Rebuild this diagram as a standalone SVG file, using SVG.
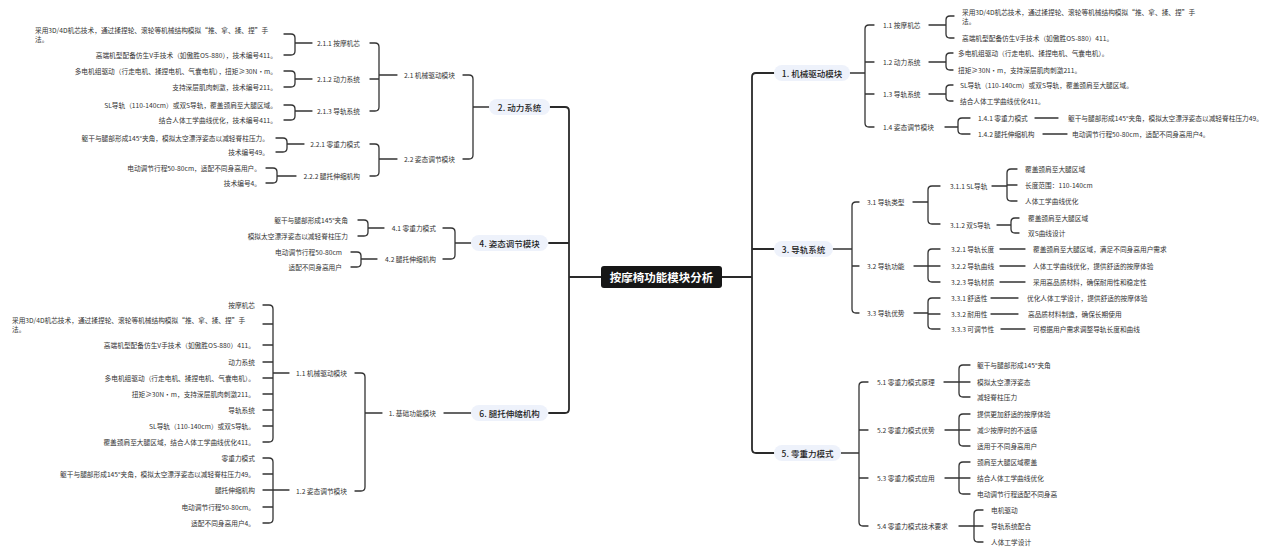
<svg xmlns="http://www.w3.org/2000/svg" width="1280" height="554" viewBox="0 0 1280 554">
<style>
text{font-family:"Noto Sans CJK SC","Noto Sans",sans-serif;font-size:6.7px;fill:#333;dominant-baseline:central}
.e{text-anchor:end}
.m{font-size:8.5px;fill:#222;font-weight:500;text-anchor:middle}
.c{font-size:11.5px;fill:#fff;font-weight:700;text-anchor:middle}
.p{fill:#eef2fb}
.l{fill:none;stroke:#333;stroke-width:1.3;stroke-linecap:round}
.L{fill:none;stroke:#2a2a2a;stroke-width:1.8;stroke-linecap:round}
</style>
<rect width="1280" height="554" fill="#fff"/>
<g id="connectors">
<path class="L" d="M550 107H565Q569 107 569 111V409Q569 413 565 413H549M549 243H569M569 277H601"/>
<path class="L" d="M774 73H756Q752 73 752 77V449Q752 453 756 453H774M752 249H774M722 277H752"/>
<path class="l" d="M489 107H473M463 75H469Q473 75 473 79V155Q473 159 469 159H463"/>
<path class="l" d="M397 75H379M370 43H375Q379 43 379 47V107Q379 111 375 111H370M370 79H379"/>
<path class="l" d="M312 43H295M284 34H291Q295 34 295 38V51Q295 55 291 55H284"/>
<path class="l" d="M312 79H295M284 71H291Q295 71 295 75V83Q295 87 291 87H284"/>
<path class="l" d="M312 111H295M284 105H291Q295 105 295 109V116Q295 120 291 120H284"/>
<path class="l" d="M397 159H379M370 144H375Q379 144 379 148V172Q379 176 375 176H370"/>
<path class="l" d="M304 144H287M276 138H283Q287 138 287 142V148Q287 152 283 152H276"/>
<path class="l" d="M296 176H277M266 168H273Q277 168 277 172V179Q277 183 273 183H266"/>
<path class="l" d="M471 243H455M443 228H451Q455 228 455 232V255Q455 259 451 259H443"/>
<path class="l" d="M384 228H368M358 220H364Q368 220 368 224V232Q368 236 364 236H358"/>
<path class="l" d="M377 259H361M351 252H357Q361 252 361 256V263Q361 267 357 267H351"/>
<path class="l" d="M471 413H444M382 413H365M355 373H361Q365 373 365 377V487Q365 491 361 491H355"/>
<path class="l" d="M289 373H273M263 305H269Q273 305 273 309V438Q273 442 269 442H263M263 324H273M263 345H273M263 362H273M263 378H273M263 394H273M263 410H273M263 426H273"/>
<path class="l" d="M263 490H289M263 458H269Q273 458 273 462V519Q273 523 269 523H263M263 474H273M263 507H273"/>
<path class="l" d="M850 73H865M874 25H869Q865 25 865 29V123Q865 127 869 127H874M865 62H874M865 94H874"/>
<path class="l" d="M929 25H946M954 16H950Q946 16 946 20V34Q946 38 950 38H954"/>
<path class="l" d="M929 62H946M953 53H950Q946 53 946 57V66Q946 70 950 70H953"/>
<path class="l" d="M929 94H946M953 85H950Q946 85 946 89V97Q946 101 950 101H953"/>
<path class="l" d="M945 127H958M970 118H962Q958 118 958 122V130Q958 134 962 134H970M1035 118H1058M1043 134H1067"/>
<path class="l" d="M833 249H852M859 202H856Q852 202 852 206V309Q852 313 856 313H859M852 266H859"/>
<path class="l" d="M913 202H928M940 186H932Q928 186 928 190V220Q928 224 932 224H940"/>
<path class="l" d="M992 186H1007M1017 169H1011Q1007 169 1007 173V197Q1007 201 1011 201H1017M1007 185H1017"/>
<path class="l" d="M997 225H1011M1019 218H1015Q1011 218 1011 222V229Q1011 233 1015 233H1019"/>
<path class="l" d="M914 266H940M940 249H932Q928 249 928 253V278Q928 282 932 282H940M1000 249H1025M1000 266H1025M1000 282H1025"/>
<path class="l" d="M914 313H928M940 298H932Q928 298 928 302V325Q928 329 932 329H940M928 314H940M991 298H1018M991 314H1018M1001 329H1025"/>
<path class="l" d="M841 453H859M868 382H863Q859 382 859 386V522Q859 526 863 526H868M859 430H868M859 478H868"/>
<path class="l" d="M944 382H970M970 365H963Q959 365 959 369V393Q959 397 963 397H970"/>
<path class="l" d="M945 430H970M970 414H963Q959 414 959 418V442Q959 446 963 446H970"/>
<path class="l" d="M945 478H970M970 462H963Q959 462 959 466V490Q959 494 963 494H970"/>
<path class="l" d="M959 526H983M983 510H978Q974 510 974 514V538Q974 542 978 542H983"/>
</g>
<g id="root"><rect x="601" y="266" width="121" height="22" rx="3" fill="#161616"/><text class="c" x="661.5" y="277">按摩椅功能模块分析</text></g>
<g id="n2"><rect class="p" x="489" y="99" width="61" height="16" rx="8"/><text class="m" x="519.5" y="107">2. 动力系统</text></g>
<g id="n2-1"><text class="e" x="455" y="75">2.1 机械驱动模块</text></g>
<g id="n2-2"><text class="e" x="455" y="159">2.2 姿态调节模块</text></g>
<g id="n2-1-1"><text class="e" x="360" y="43">2.1.1 按摩机芯</text></g>
<g id="n2-1-2"><text class="e" x="360" y="79">2.1.2 动力系统</text></g>
<g id="n2-1-3"><text class="e" x="360" y="111">2.1.3 导轨系统</text></g>
<g id="n2-2-1"><text class="e" x="360" y="144">2.2.1 零重力模式</text></g>
<g id="n2-2-2"><text class="e" x="360" y="176">2.2.2 腿托伸缩机构</text></g>
<g id="n2-leaves">
<text x="35" y="30">采用3D/4D机芯技术，通过揉捏轮、滚轮等机械结构模拟“推、拿、揉、捏”手</text>
<text x="35" y="39">法。</text>
<text class="e" x="277" y="55">高端机型配备仿生V手技术（如傲胜OS-880），技术编号411。</text>
<text class="e" x="277" y="71">多电机组驱动（行走电机、揉捏电机、气囊电机），扭矩≥30N·m。</text>
<text class="e" x="277" y="87">支持深层肌肉刺激，技术编号211。</text>
<text class="e" x="277" y="105">SL导轨（110-140cm）或双S导轨，覆盖颈肩至大腿区域。</text>
<text class="e" x="277" y="120">结合人体工学曲线优化，技术编号411。</text>
<text class="e" x="269" y="138">躯干与腿部形成145°夹角，模拟太空漂浮姿态以减轻脊柱压力。</text>
<text class="e" x="269" y="152">技术编号49。</text>
<text class="e" x="261" y="168">电动调节行程50-80cm，适配不同身高用户。</text>
<text class="e" x="261" y="183">技术编号4。</text>
</g>
<g id="n4"><rect class="p" x="471" y="235" width="77" height="16" rx="8"/><text class="m" x="509.5" y="243">4. 姿态调节模块</text></g>
<g id="n4-1"><text class="e" x="436" y="228">4.1 零重力模式</text></g>
<g id="n4-2"><text class="e" x="436" y="259">4.2 腿托伸缩机构</text></g>
<g id="n4-leaves">
<text class="e" x="348" y="220">躯干与腿部形成145°夹角</text>
<text class="e" x="348" y="236">模拟太空漂浮姿态以减轻脊柱压力</text>
<text class="e" x="342" y="252">电动调节行程50-80cm</text>
<text class="e" x="342" y="267">适配不同身高用户</text>
</g>
<g id="n6"><rect class="p" x="471" y="405" width="77" height="16" rx="8"/><text class="m" x="509.5" y="413">6. 腿托伸缩机构</text></g>
<g id="n6-1"><text class="e" x="436" y="413">1. 基础功能模块</text></g>
<g id="n6-1-1"><text class="e" x="347" y="373">1.1 机械驱动模块</text></g>
<g id="n6-1-2"><text class="e" x="347" y="491">1.2 姿态调节模块</text></g>
<g id="n6-leaves">
<text class="e" x="255" y="305">按摩机芯</text>
<text x="12" y="320">采用3D/4D机芯技术，通过揉捏轮、滚轮等机械结构模拟“推、拿、揉、捏”手</text>
<text x="12" y="329">法。</text>
<text class="e" x="255" y="345">高端机型配备仿生V手技术（如傲胜OS-880）411。</text>
<text class="e" x="255" y="362">动力系统</text>
<text class="e" x="255" y="378">多电机组驱动（行走电机、揉捏电机、气囊电机）。</text>
<text class="e" x="255" y="394">扭矩≥30N·m，支持深层肌肉刺激211。</text>
<text class="e" x="255" y="410">导轨系统</text>
<text class="e" x="255" y="426">SL导轨（110-140cm）或双S导轨。</text>
<text class="e" x="255" y="442">覆盖颈肩至大腿区域，结合人体工学曲线优化411。</text>
<text class="e" x="255" y="458">零重力模式</text>
<text class="e" x="255" y="474">躯干与腿部形成145°夹角，模拟太空漂浮姿态以减轻脊柱压力49。</text>
<text class="e" x="255" y="490">腿托伸缩机构</text>
<text class="e" x="255" y="507">电动调节行程50-80cm。</text>
<text class="e" x="255" y="523">适配不同身高用户4。</text>
</g>
<g id="n1"><rect class="p" x="774" y="65" width="76" height="16" rx="8"/><text class="m" x="812" y="73">1. 机械驱动模块</text></g>
<g id="n1-1"><text x="883" y="25">1.1 按摩机芯</text></g>
<g id="n1-2"><text x="883" y="62">1.2 动力系统</text></g>
<g id="n1-3"><text x="883" y="94">1.3 导轨系统</text></g>
<g id="n1-4"><text x="883" y="127">1.4 姿态调节模块</text></g>
<g id="n1-4-1"><text x="978" y="118">1.4.1 零重力模式</text></g>
<g id="n1-4-2"><text x="978" y="134">1.4.2 腿托伸缩机构</text></g>
<g id="n1-leaves">
<text x="962" y="12">采用3D/4D机芯技术，通过揉捏轮、滚轮等机械结构模拟“推、拿、揉、捏”手</text>
<text x="962" y="21">法。</text>
<text x="962" y="38">高端机型配备仿生V手技术（如傲胜OS-880）411。</text>
<text x="958" y="53">多电机组驱动（行走电机、揉捏电机、气囊电机）。</text>
<text x="958" y="70">扭矩≥30N·m，支持深层肌肉刺激211。</text>
<text x="960" y="85">SL导轨（110-140cm）或双S导轨，覆盖颈肩至大腿区域。</text>
<text x="960" y="101">结合人体工学曲线优化411。</text>
<text x="1068" y="118">躯干与腿部形成145°夹角，模拟太空漂浮姿态以减轻脊柱压力49。</text>
<text x="1072" y="134">电动调节行程50-80cm，适配不同身高用户4。</text>
</g>
<g id="n3"><rect class="p" x="774" y="241" width="59" height="16" rx="8"/><text class="m" x="803.5" y="249">3. 导轨系统</text></g>
<g id="n3-1"><text x="867" y="202">3.1 导轨类型</text></g>
<g id="n3-2"><text x="867" y="266">3.2 导轨功能</text></g>
<g id="n3-3"><text x="867" y="313">3.3 导轨优势</text></g>
<g id="n3-1-1"><text x="950" y="186">3.1.1 SL导轨</text></g>
<g id="n3-1-2"><text x="950" y="225">3.1.2 双S导轨</text></g>
<g id="n3-2-x"><text x="951" y="249">3.2.1 导轨长度</text><text x="951" y="266">3.2.2 导轨曲线</text><text x="951" y="282">3.2.3 导轨材质</text></g>
<g id="n3-3-x"><text x="951" y="298">3.3.1 舒适性</text><text x="951" y="314">3.3.2 耐用性</text><text x="951" y="329">3.3.3 可调节性</text></g>
<g id="n3-leaves">
<text x="1025" y="169">覆盖颈肩至大腿区域</text>
<text x="1025" y="185">长度范围：110-140cm</text>
<text x="1025" y="201">人体工学曲线优化</text>
<text x="1028" y="218">覆盖颈肩至大腿区域</text>
<text x="1028" y="233">双S曲线设计</text>
<text x="1033" y="249">覆盖颈肩至大腿区域，满足不同身高用户需求</text>
<text x="1033" y="266">人体工学曲线优化，提供舒适的按摩体验</text>
<text x="1033" y="282">采用高品质材料，确保耐用性和稳定性</text>
<text x="1027" y="298">优化人体工学设计，提供舒适的按摩体验</text>
<text x="1028" y="314">高品质材料制造，确保长期使用</text>
<text x="1033" y="329">可根据用户需求调整导轨长度和曲线</text>
</g>
<g id="n5"><rect class="p" x="774" y="445" width="67" height="16" rx="8"/><text class="m" x="807.5" y="453">5. 零重力模式</text></g>
<g id="n5-1"><text x="877" y="382">5.1 零重力模式原理</text></g>
<g id="n5-2"><text x="877" y="430">5.2 零重力模式优势</text></g>
<g id="n5-3"><text x="877" y="478">5.3 零重力模式应用</text></g>
<g id="n5-4"><text x="877" y="526">5.4 零重力模式技术要求</text></g>
<g id="n5-leaves">
<text x="977" y="365">躯干与腿部形成145°夹角</text>
<text x="977" y="382">模拟太空漂浮姿态</text>
<text x="977" y="397">减轻脊柱压力</text>
<text x="977" y="414">提供更加舒适的按摩体验</text>
<text x="977" y="430">减少按摩时的不适感</text>
<text x="977" y="446">适用于不同身高用户</text>
<text x="977" y="462">颈肩至大腿区域覆盖</text>
<text x="977" y="478">结合人体工学曲线优化</text>
<text x="977" y="494">电动调节行程适配不同身高</text>
<text x="991" y="510">电机驱动</text>
<text x="991" y="526">导轨系统配合</text>
<text x="991" y="542">人体工学设计</text>
</g>
</svg>
